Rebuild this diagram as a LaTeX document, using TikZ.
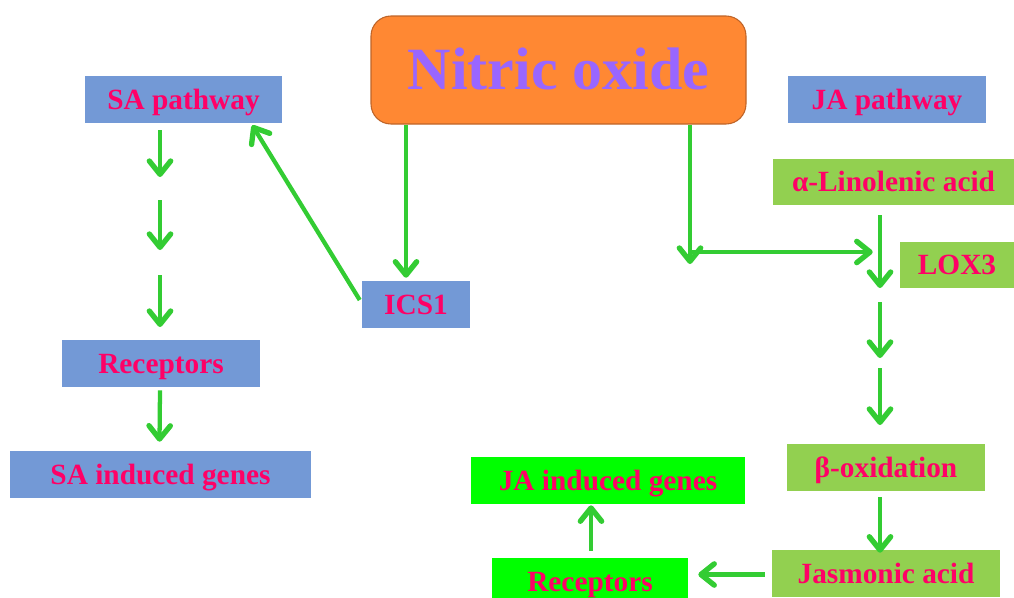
\documentclass[tikz,border=0pt]{standalone}
\usepackage{fontspec}
\setmainfont{Liberation Serif}
\usepackage{xcolor}
\usetikzlibrary{arrows.meta,calc,positioning}

\definecolor{labelred}{HTML}{FF0066}
\definecolor{boxblue}{HTML}{7399D6}
\definecolor{boxgreen}{HTML}{92D050}
\definecolor{boxlime}{HTML}{00FF00}
\definecolor{flowgreen}{HTML}{33CC33}
\definecolor{noorange}{HTML}{FF8833}
\definecolor{noedge}{HTML}{BF6428}
\definecolor{nopurple}{HTML}{9966FF}

\begin{document}
\begin{tikzpicture}[x=0.75pt,y=-0.75pt,>={Straight Barb[length=10pt,width=16pt,line width=4pt,round]},line join=round]
  \tikzset{
    box/.style={rectangle,inner sep=0pt,minimum height=35.25pt,text=labelred,
      text height=14.5pt,text depth=0pt,
      font=\fontsize{22}{24}\selectfont\bfseries},
    bluebox/.style={box,fill=boxblue},
    greenbox/.style={box,fill=boxgreen},
    limebox/.style={box,fill=boxlime},
    flow/.style={->,draw=flowgreen,line width=3.2pt}
  }
  \useasboundingbox (0,0) rectangle (1014,597);
  % central node
  \node[rectangle,rounded corners=15pt,fill=noorange,draw=noedge,line width=0.8pt,
    minimum width=281.25pt,minimum height=81pt,text=nopurple,
    text height=29.7pt,text depth=0pt,
    font=\fontsize{45}{48}\selectfont\bfseries] (no) at (558.5,70) {Nitric oxide};
  % SA side
  \node[bluebox,minimum width=147.75pt] (sapath) at (183.5,99.5) {SA pathway};
  \node[bluebox,minimum width=81pt] (ics) at (416,304.5) {ICS1};
  \node[bluebox,minimum width=148.5pt] (sarec) at (161,363.5) {Receptors};
  \node[bluebox,minimum width=225.75pt] (sagenes) at (160.5,474.5) {SA induced genes};
  % JA side
  \node[bluebox,minimum width=148.5pt] (japath) at (887,99.5) {JA pathway};
  \node[greenbox,minimum width=180.75pt,minimum height=34.5pt] (lin) at (893.5,182) {α-Linolenic acid};
  \node[greenbox,minimum width=85.5pt,minimum height=34.5pt] (lox) at (957,265) {LOX3};
  \node[greenbox,minimum width=148.5pt] (box) at (886,467.5) {β-oxidation};
  \node[greenbox,minimum width=171pt] (jas) at (886,573.5) {Jasmonic acid};
  \node[limebox,minimum width=147pt] (jarec) at (590,581.5) {Receptors};
  \node[limebox,minimum width=205.5pt] (jagenes) at (608,480.5) {JA induced genes};
  % free ends of the connectors
  \coordinate (sa1) at (160,130);
  \coordinate (sa2) at (160,177);
  \coordinate (sa3) at (160,200);
  \coordinate (sa4) at (160,250);
  \coordinate (sa5) at (160,275);
  \coordinate (sa6) at (160,327);
  \coordinate (icstop) at ($(ics.north)+(-10,-3)$);
  \coordinate (jbend) at (690,252);
  \coordinate (ja1) at (880,288);
  \coordinate (ja2) at (880,302);
  \coordinate (ja3) at (880,358);
  \coordinate (ja4) at (880,368);
  \coordinate (ja5) at (880,425);
  \draw[flow] (sa1) -- (sa2);
  \draw[flow] (sa3) -- (sa4);
  \draw[flow] (sa5) -- (sa6);
  \draw[flow] ($(sarec.south)+(-1,3)$) -- ($(sagenes.north)+(-1,-9)$);
  \draw[flow] ($(ics.west)+(-2,-4.5)$) -- ($(sapath.south east)+(-30,2)$);
  \draw[flow] (no.south -| icstop) -- (icstop);
  \draw[flow] (no.south -| jbend) -- ($(jbend)+(0,12)$);
  \draw[flow] (jbend) -- ($(lox.west)+(-27,-13)$);
  \draw[flow] ($(lin.south)+(-13.5,10)$) -- (ja1);
  \draw[flow] (ja2) -- (ja3);
  \draw[flow] (ja4) -- (ja5);
  \draw[flow] ($(box.south)+(-6,6)$) -- ($(jas.north)+(-6,3)$);
  \draw[flow] ($(jas.west)+(-7,1)$) -- ($(jarec.east)+(10,-7)$);
  \draw[flow] ($(jarec.north)+(1,-7)$) -- ($(jagenes.south)+(-17,1)$);
\end{tikzpicture}
\end{document}
